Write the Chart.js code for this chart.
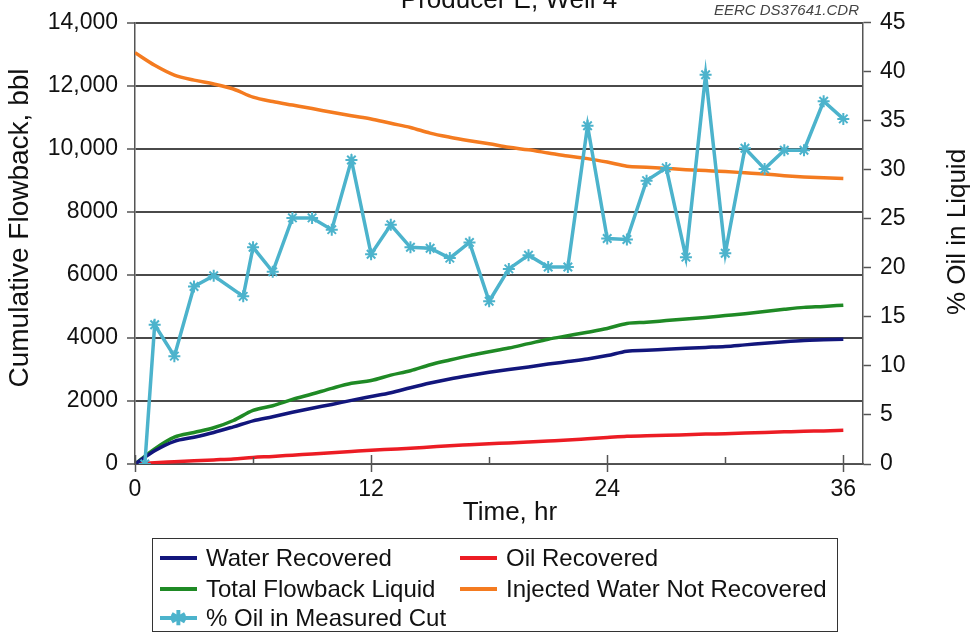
<!DOCTYPE html>
<html>
<head>
<meta charset="utf-8">
<script src="https://cdn.jsdelivr.net/npm/chart.js@4"></script>
<style>
  html, body { margin: 0; padding: 0; background: #fff; }
  #wrap { position: relative; width: 979px; height: 636px; }
  #legend {
    position: absolute; left: 152px; top: 538px; width: 686px; height: 94px;
    border: 1.5px solid #333; box-sizing: border-box;
    font-family: "Liberation Sans", Arial, sans-serif; font-size: 24px; color: #111;
  }
  .item { position: absolute; display: flex; align-items: center; white-space: nowrap; }
  .sw { width: 37px; height: 4px; margin-right: 9px; position: relative; }
  .star { position: absolute; left: 10px; top: -8px; font-size: 20px; line-height: 20px; color: #4cb3cc; font-weight: bold; }
</style>
</head>
<body>
<div id="wrap">
  <canvas id="flowChart" width="979" height="636"></canvas>
  <div id="legend"></div>
</div>
<script>
// Producer E, Well 4 - cumulative flowback
const hours = [0, 1, 2, 3, 4, 5, 6, 7, 8, 9, 10, 11, 12, 13, 14, 15, 16, 17, 18, 19, 20, 21, 22, 23, 24, 25, 26, 27, 28, 29, 30, 31, 32, 33, 34, 35, 36];
const waterRecovered = [0, 420, 720, 850, 1000, 1180, 1370, 1500, 1640, 1770, 1890, 2020, 2140, 2260, 2420, 2570, 2700, 2810, 2910, 3000, 3080, 3170, 3250, 3330, 3440, 3580, 3610, 3640, 3670, 3700, 3730, 3780, 3830, 3880, 3920, 3940, 3960];
const oilRecovered = [0, 40, 70, 100, 130, 160, 210, 240, 280, 320, 360, 400, 440, 470, 500, 540, 580, 610, 640, 670, 700, 730, 760, 800, 840, 880, 900, 910, 930, 950, 960, 980, 1000, 1020, 1040, 1050, 1070];
const totalFlowback = [0, 480, 850, 1000, 1150, 1380, 1700, 1850, 2050, 2220, 2400, 2560, 2650, 2820, 2960, 3150, 3300, 3440, 3560, 3680, 3820, 3960, 4070, 4180, 4300, 4460, 4500, 4550, 4600, 4650, 4710, 4770, 4840, 4910, 4970, 5000, 5040];
const injectedNotRecovered = [13050, 12650, 12340, 12180, 12060, 11900, 11640, 11500, 11390, 11280, 11160, 11050, 10950, 10810, 10680, 10500, 10370, 10260, 10160, 10050, 9970, 9870, 9770, 9690, 9580, 9450, 9420, 9380, 9340, 9310, 9280, 9240, 9200, 9150, 9110, 9080, 9060];

const cutHours = [0.5, 1, 2, 3, 4, 5.5, 6, 7, 8, 9, 10, 11, 12, 13, 14, 15, 16, 17, 18, 19, 20, 21, 22, 23, 24, 25, 26, 27, 28, 29, 30, 31, 32, 33, 34, 35, 36];
const oilCutPct = [0, 14.2, 11.0, 18.1, 19.2, 17.1, 22.1, 19.6, 25.1, 25.1, 23.9, 31.0, 21.4, 24.4, 22.1, 22.0, 21.0, 22.6, 16.6, 19.9, 21.3, 20.1, 20.1, 34.5, 23.0, 22.9, 28.9, 30.2, 21.1, 39.7, 21.5, 32.2, 30.1, 32.0, 32.0, 37.0, 35.2];

const xTicks = [0, 12, 24, 36];
const xMinorTicks = [6, 18, 30];

const FONT = '"Liberation Sans", Arial, sans-serif';
const AXIS = '#555';

const toPoints = (xs, ys) => xs.map((x, i) => ({ x: x, y: ys[i] }));

const series = [
  { label: "Water Recovered", data: waterRecovered, color: "#12167c" },
  { label: "Oil Recovered", data: oilRecovered, color: "#ec1c24" },
  { label: "Total Flowback Liquid", data: totalFlowback, color: "#1f8a25" },
  { label: "Injected Water Not Recovered", data: injectedNotRecovered, color: "#f47b20" }
];

const datasets = [{
  label: "% Oil in Measured Cut",
  data: toPoints(cutHours, oilCutPct),
  yAxisID: "y1",
  borderColor: "#4cb3cc",
  backgroundColor: "#4cb3cc",
  borderWidth: 3.5,
  pointStyle: "star",
  pointRadius: 6,
  pointBorderWidth: 2,
  tension: 0
}].concat(series.map(s => ({
  label: s.label,
  data: toPoints(hours, s.data),
  yAxisID: "y",
  borderColor: s.color,
  backgroundColor: s.color,
  borderWidth: 3.5,
  pointRadius: 0,
  cubicInterpolationMode: "monotone"
})));

// texts and minor tick marks
const extras = {
  id: "extras",
  afterDraw(chart) {
    const ctx = chart.ctx;
    const x = chart.scales.x;
    const area = chart.chartArea;
    ctx.save();
    ctx.strokeStyle = AXIS;
    ctx.lineWidth = 1.5;
    xTicks.forEach(v => {
      const px = Math.round(x.getPixelForValue(v)) + 0.5;
      ctx.beginPath(); ctx.moveTo(px, area.bottom - 9); ctx.lineTo(px, area.bottom + 8); ctx.stroke();
    });
    xMinorTicks.forEach(v => {
      const px = Math.round(x.getPixelForValue(v)) + 0.5;
      ctx.beginPath(); ctx.moveTo(px, area.bottom - 7); ctx.lineTo(px, area.bottom); ctx.stroke();
    });

    ctx.fillStyle = "#111";
    ctx.textAlign = "center";
    ctx.textBaseline = "alphabetic";
    ctx.font = "26px " + FONT;
    ctx.fillText("Producer E, Well 4", 509, 8);
    ctx.fillText("Time, hr", 510, 520);

    ctx.font = "italic 15px " + FONT;
    ctx.fillStyle = "#444";
    ctx.textAlign = "right";
    ctx.fillText("EERC DS37641.CDR", 859, 15);

    ctx.fillStyle = "#111";
    ctx.textAlign = "center";
    ctx.textBaseline = "middle";
    ctx.font = "28px " + FONT;
    ctx.save();
    ctx.translate(20, 228);
    ctx.rotate(-Math.PI / 2);
    ctx.fillText("Cumulative Flowback, bbl", 0, 0);
    ctx.restore();
    ctx.font = "26px " + FONT;
    ctx.save();
    ctx.translate(958, 232);
    ctx.rotate(-Math.PI / 2);
    ctx.fillText("% Oil in Liquid", 0, 0);
    ctx.restore();
    ctx.restore();
  }
};

const tickFont = { family: FONT, size: 23 };

new Chart(document.getElementById("flowChart"), {
  type: "line",
  data: { datasets: datasets },
  options: {
    responsive: false,
    animation: false,
    events: [],
    layout: { padding: { top: 18, left: 0, right: 0, bottom: 0 } },
    plugins: { legend: { display: false }, tooltip: { enabled: false } },
    scales: {
      x: {
        type: "linear",
        min: 0,
        max: 37,
        afterFit: s => { s.height = 172; },
        ticks: { stepSize: 12, includeBounds: false, font: tickFont, color: "#111", padding: 4, maxRotation: 0 },
        grid: { drawOnChartArea: false, tickLength: 8, tickColor: "rgba(0,0,0,0)" },
        border: { display: true, color: AXIS, width: 1.5 }
      },
      y: {
        position: "left",
        min: 0,
        max: 14000,
        afterFit: s => { s.width = 135; },
        ticks: {
          stepSize: 2000,
          font: tickFont,
          color: "#111",
          padding: 9,
          callback: v => v >= 10000 ? v.toLocaleString("en-US") : String(v)
        },
        grid: { color: "#4a4a4a", lineWidth: 2, tickLength: 8, tickColor: AXIS, tickWidth: 1.5 },
        border: { display: true, color: AXIS, width: 1.5 }
      },
      y1: {
        position: "right",
        min: 0,
        max: 45,
        afterFit: s => { s.width = 116; },
        ticks: { stepSize: 5, font: tickFont, color: "#111", padding: 9 },
        grid: { drawOnChartArea: false, tickLength: 8, tickColor: AXIS, tickWidth: 1.5 },
        border: { display: true, color: AXIS, width: 1.5 }
      }
    }
  },
  plugins: [extras]
});

// legend laid out in two columns like the original
const legend = document.getElementById("legend");
const legendSlots = [
  { label: series[0].label, color: series[0].color, left: 7, top: 5 },
  { label: series[1].label, color: series[1].color, left: 307, top: 5 },
  { label: series[2].label, color: series[2].color, left: 7, top: 36 },
  { label: series[3].label, color: series[3].color, left: 307, top: 36 },
  { label: datasets[0].label, color: "#4cb3cc", left: 7, top: 65, star: true }
];
legendSlots.forEach(s => {
  const d = document.createElement("div");
  d.className = "item";
  d.style.left = s.left + "px";
  d.style.top = s.top + "px";
  d.innerHTML = '<span class="sw" style="background:' + s.color + '">' +
    (s.star ? '<span class="star">✱</span>' : '') + '</span><span>' + s.label + '</span>';
  legend.appendChild(d);
});
</script>
</body>
</html>
